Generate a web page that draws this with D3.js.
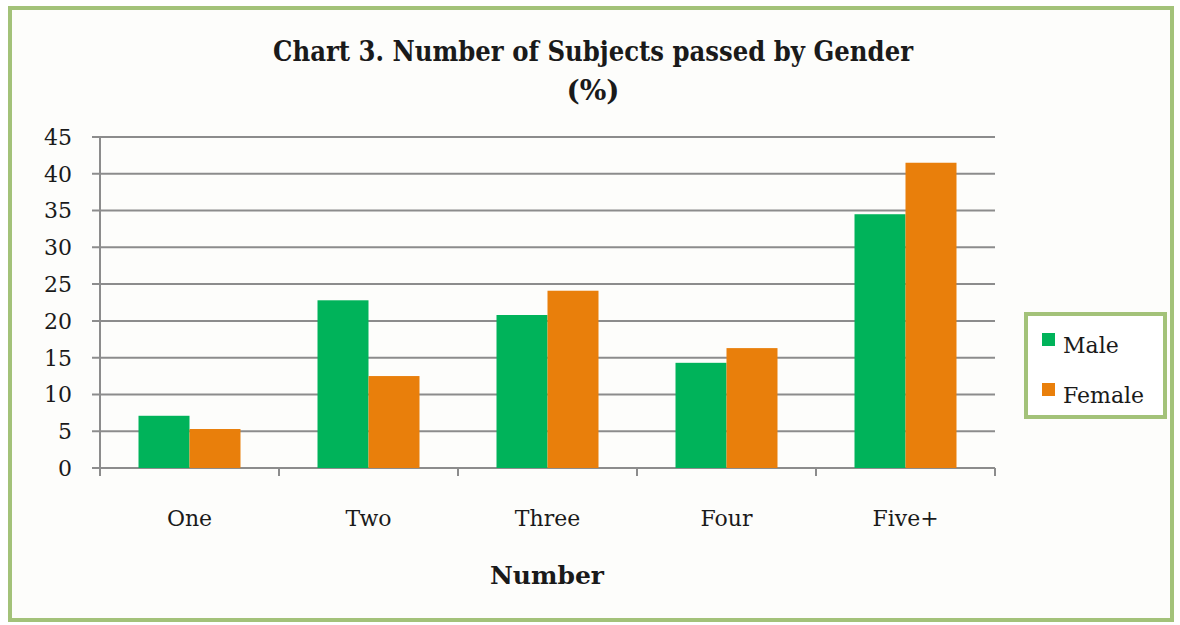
<!DOCTYPE html>
<html><head><meta charset="utf-8">
<script src="https://cdn.jsdelivr.net/npm/d3@7"></script>
<style>html,body{margin:0;padding:0;background:#fff;}svg{display:block;}</style>
</head><body>
<script>
const categories = ["One", "Two", "Three", "Four", "Five+"];
const seriesNames = ["Male", "Female"];
const maleValues = [7.1, 22.8, 20.8, 14.3, 34.5];
const femaleValues = [5.3, 12.5, 24.1, 16.3, 41.5];
const yTicks = [0, 5, 10, 15, 20, 25, 30, 35, 40, 45];
const colors = ["#00b35a", "#e97f0b"];
const titleLines = ["Chart 3. Number of Subjects passed by Gender", "(%)"];
const xTitle = "Number";

(function () {
const W = 1180, H = 625;
const svg = d3.select("body").append("svg").attr("width", W).attr("height", H);
const serif = "'DejaVu Serif', 'Liberation Serif', serif";

svg.append("rect").attr("x", 0).attr("y", 0).attr("width", W).attr("height", H).attr("fill", "#fff");
svg.append("rect").attr("x", 10).attr("y", 8).attr("width", 1162).attr("height", 612)
  .attr("fill", "#fdfdfb").attr("stroke", "#a3c279").attr("stroke-width", 4);

const pl = 100, pr = 995, pt = 137, pb = 468;
const x = d3.scaleBand().domain(categories).range([pl, pr]).paddingInner(0).paddingOuter(0);
const x1 = d3.scaleBand().domain(seriesNames).range([0, x.bandwidth()]).paddingInner(0).paddingOuter(0.755);
const y = d3.scaleLinear().domain([0, 45]).range([pb, pt]);

svg.append("g").selectAll("line").data(yTicks).join("line")
  .attr("x1", pl - 8).attr("x2", pr)
  .attr("y1", d => y(d)).attr("y2", d => y(d))
  .attr("stroke", "#8c8c8c").attr("stroke-width", 2);

svg.append("line").attr("x1", pl).attr("x2", pl).attr("y1", pt).attr("y2", pb + 8)
  .attr("stroke", "#8c8c8c").attr("stroke-width", 2);

svg.append("g").selectAll("text").data(yTicks).join("text")
  .attr("x", pl - 28).attr("y", d => y(d)).attr("dy", "0.36em")
  .attr("text-anchor", "end").attr("font-family", serif).attr("font-size", 22).attr("fill", "#1a1a1a")
  .text(d => d);

const tickXs = categories.map(c => x(c)).concat([pr]);
svg.append("g").selectAll("line").data(tickXs).join("line")
  .attr("x1", d => d).attr("x2", d => d).attr("y1", pb).attr("y2", pb + 8)
  .attr("stroke", "#8c8c8c").attr("stroke-width", 2);

const groups = svg.append("g").selectAll("g").data(categories).join("g")
  .attr("transform", c => `translate(${x(c)},0)`);
groups.selectAll("rect").data((c, i) => [
  {s: "Male", v: maleValues[i], k: 0},
  {s: "Female", v: femaleValues[i], k: 1}
]).join("rect")
  .attr("x", d => x1(d.s)).attr("width", x1.bandwidth())
  .attr("y", d => y(d.v)).attr("height", d => y(0) - y(d.v))
  .attr("fill", d => colors[d.k]);

svg.append("g").selectAll("text").data(categories).join("text")
  .attr("x", c => x(c) + x.bandwidth() / 2).attr("y", 526)
  .attr("text-anchor", "middle").attr("font-family", serif).attr("font-size", 22).attr("fill", "#1a1a1a")
  .text(c => c);

svg.append("text").attr("x", 593).attr("y", 61).attr("text-anchor", "middle")
  .attr("font-family", serif).attr("font-weight", "bold").attr("font-size", 28).attr("fill", "#1a1a1a")
  .attr("textLength", 640).attr("lengthAdjust", "spacingAndGlyphs")
  .text(titleLines[0]);
svg.append("text").attr("x", 593).attr("y", 100).attr("text-anchor", "middle")
  .attr("font-family", serif).attr("font-weight", "bold").attr("font-size", 28).attr("fill", "#1a1a1a")
  .text(titleLines[1]);
svg.append("text").attr("x", 547).attr("y", 584).attr("text-anchor", "middle")
  .attr("font-family", serif).attr("font-weight", "bold").attr("font-size", 25).attr("fill", "#1a1a1a")
  .text(xTitle);

const lg = svg.append("g");
lg.append("rect").attr("x", 1026).attr("y", 314).attr("width", 139).attr("height", 103)
  .attr("fill", "#fff").attr("stroke", "#a3c279").attr("stroke-width", 4);
const items = lg.selectAll("g").data(seriesNames).join("g")
  .attr("transform", (d, i) => `translate(1042,${333 + i * 50})`);
items.append("rect").attr("width", 13).attr("height", 13).attr("fill", (d, i) => colors[i]);
items.append("text").attr("x", 21).attr("y", 20).attr("font-family", serif).attr("font-size", 22)
  .attr("fill", "#1a1a1a").text(d => d);
})();
</script>
</body></html>
